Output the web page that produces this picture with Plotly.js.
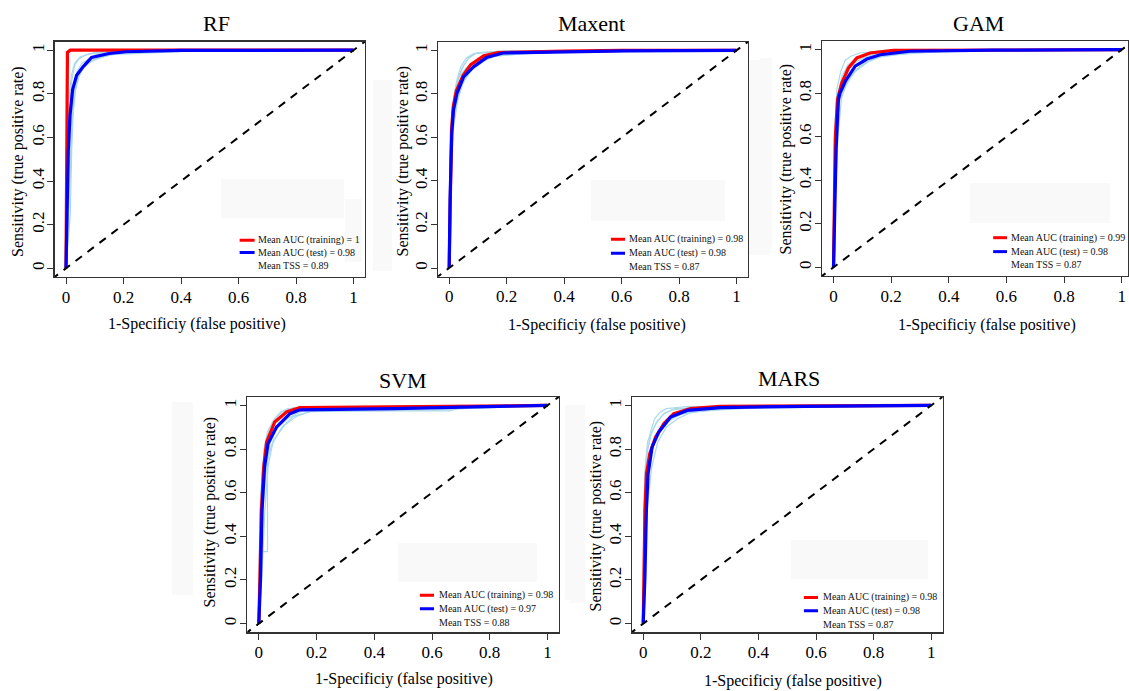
<!DOCTYPE html>
<html>
<head>
<meta charset="utf-8">
<script src="https://cdn.plot.ly/plotly-3.0.1.min.js"></script>
<style>html,body{margin:0;padding:0;background:#fff;}#chart{width:1129px;height:691px;}</style>
</head>
<body>
<div id="chart"></div>
<script>
// ---------------- DATA ----------------
const models = ['RF', 'Maxent', 'GAM', 'SVM', 'MARS'];
const aucTrain = ['1', '0.98', '0.99', '0.98', '0.98'];
const aucTest = ['0.98', '0.98', '0.98', '0.97', '0.98'];
const tssVals = ['0.89', '0.87', '0.87', '0.88', '0.87'];
const tickVals = [0, 0.2, 0.4, 0.6, 0.8, 1];
const tickText = ['0', '0.2', '0.4', '0.6', '0.8', '1'];
const diagX = [-0.05, 1.05];
const diagY = [-0.05, 1.05];

// RF
const rfTrainX = [0, 0.002, 0.003, 0.005, 0.015, 1];
const rfTrainY = [0, 0.5, 0.9, 0.99, 1, 1];
const rfTestX = [0, 0.002, 0.008, 0.014, 0.023, 0.037, 0.06, 0.089, 0.15, 0.21, 0.4, 1];
const rfTestY = [0, 0.16, 0.54, 0.70, 0.82, 0.885, 0.925, 0.967, 0.985, 0.993, 0.999, 1];
const rfRepX = [
  [0, 0.006, 0.012, 0.02, 0.03, 0.045, 0.07, 0.12, 0.3, 1],
  [0, 0.01, 0.016, 0.025, 0.04, 0.06, 0.09, 0.15, 0.42, 1],
  [0, 0.015, 0.02, 0.028, 0.038, 0.055, 0.08, 0.11, 0.25, 1],
  [0, 0.004, 0.01, 0.018, 0.03, 0.05, 0.1, 0.2, 1],
  [0, 0.008, 0.02, 0.03, 0.045, 0.065, 0.1, 0.18, 0.35, 1],
  [0, 0.012, 0.022, 0.035, 0.05, 0.07, 0.1, 0.14, 0.3, 1]
];
const rfRepY = [
  [0, 0.45, 0.72, 0.86, 0.93, 0.96, 0.98, 0.99, 1, 1],
  [0, 0.3, 0.6, 0.78, 0.87, 0.92, 0.95, 0.98, 0.995, 1],
  [0, 0.25, 0.55, 0.8, 0.9, 0.94, 0.96, 0.985, 1, 1],
  [0, 0.5, 0.75, 0.88, 0.94, 0.97, 0.99, 0.998, 1],
  [0, 0.35, 0.65, 0.8, 0.88, 0.93, 0.96, 0.985, 0.997, 1],
  [0, 0.4, 0.68, 0.84, 0.9, 0.95, 0.975, 0.99, 0.998, 1]
];

// Maxent
const mxTrainX = [0, 0.003, 0.008, 0.014, 0.025, 0.048, 0.075, 0.12, 0.17, 0.4, 0.6, 1];
const mxTrainY = [0, 0.35, 0.63, 0.74, 0.815, 0.885, 0.935, 0.975, 0.99, 0.997, 1, 1];
const mxTestX = [0, 0.003, 0.009, 0.015, 0.027, 0.05, 0.084, 0.13, 0.188, 0.384, 0.614, 1];
const mxTestY = [0, 0.315, 0.62, 0.726, 0.802, 0.878, 0.924, 0.967, 0.988, 0.993, 0.998, 1];
const mxRepX = [
  [0, 0.003, 0.008, 0.015, 0.03, 0.05, 0.07, 0.1, 0.2, 1],
  [0, 0.005, 0.012, 0.022, 0.04, 0.07, 0.1, 0.14, 0.3, 1],
  [0, 0.004, 0.01, 0.02, 0.035, 0.06, 0.09, 0.13, 0.47, 1],
  [0, 0.002, 0.006, 0.014, 0.025, 0.045, 0.065, 0.09, 0.18, 1],
  [0, 0.006, 0.015, 0.03, 0.05, 0.08, 0.12, 0.17, 0.35, 1],
  [0, 0.003, 0.009, 0.018, 0.028, 0.042, 0.06, 0.085, 0.15, 1]
];
const mxRepY = [
  [0, 0.4, 0.66, 0.78, 0.87, 0.93, 0.97, 0.99, 0.998, 1],
  [0, 0.35, 0.6, 0.74, 0.83, 0.9, 0.94, 0.97, 0.99, 1],
  [0, 0.45, 0.68, 0.8, 0.88, 0.92, 0.95, 0.975, 0.998, 1],
  [0, 0.3, 0.62, 0.76, 0.85, 0.92, 0.96, 0.985, 0.997, 1],
  [0, 0.4, 0.65, 0.77, 0.86, 0.91, 0.95, 0.98, 0.995, 1],
  [0, 0.5, 0.7, 0.8, 0.87, 0.93, 0.965, 0.985, 0.995, 1]
];

// GAM
const gmTrainX = [0, 0.002, 0.006, 0.014, 0.029, 0.052, 0.081, 0.127, 0.208, 1];
const gmTrainY = [0, 0.24, 0.59, 0.772, 0.848, 0.916, 0.962, 0.985, 0.997, 1];
const gmTestX = [0, 0.004, 0.009, 0.017, 0.023, 0.041, 0.075, 0.116, 0.162, 0.266, 0.555, 1];
const gmTestY = [0, 0.24, 0.543, 0.772, 0.802, 0.855, 0.924, 0.957, 0.977, 0.993, 0.998, 1];
const gmRepX = [
  [0, 0.003, 0.008, 0.015, 0.03, 0.05, 0.08, 0.12, 0.2, 1],
  [0, 0.004, 0.01, 0.02, 0.035, 0.06, 0.1, 0.15, 0.3, 1],
  [0, 0.005, 0.012, 0.025, 0.04, 0.07, 0.11, 0.16, 0.25, 1],
  [0, 0.002, 0.006, 0.012, 0.025, 0.04, 0.06, 0.09, 0.18, 1],
  [0, 0.006, 0.015, 0.028, 0.045, 0.075, 0.12, 0.18, 0.4, 1],
  [0, 0.003, 0.009, 0.018, 0.03, 0.05, 0.085, 0.13, 0.3, 1]
];
const gmRepY = [
  [0, 0.35, 0.62, 0.8, 0.88, 0.93, 0.96, 0.98, 0.995, 1],
  [0, 0.3, 0.58, 0.76, 0.82, 0.88, 0.93, 0.965, 0.99, 1],
  [0, 0.4, 0.65, 0.8, 0.85, 0.9, 0.94, 0.97, 0.99, 1],
  [0, 0.4, 0.68, 0.82, 0.9, 0.95, 0.97, 0.985, 0.997, 1],
  [0, 0.3, 0.6, 0.78, 0.84, 0.9, 0.945, 0.975, 0.993, 1],
  [0, 0.45, 0.7, 0.8, 0.86, 0.91, 0.95, 0.975, 0.992, 1]
];

// SVM
const svTrainX = [0, 0.003, 0.009, 0.017, 0.027, 0.055, 0.096, 0.142, 0.35, 0.69, 1];
const svTrainY = [0, 0.217, 0.521, 0.719, 0.833, 0.924, 0.97, 0.99, 0.993, 0.996, 1];
const svTestX = [0, 0.006, 0.011, 0.02, 0.032, 0.061, 0.108, 0.142, 0.466, 0.69, 0.81, 1];
const svTestY = [0, 0.217, 0.52, 0.72, 0.825, 0.90, 0.962, 0.98, 0.985, 0.99, 0.995, 1];
const svRepX = [
  [0, 0.003, 0.01, 0.018, 0.03, 0.05, 0.08, 0.12, 0.3, 1],
  [0, 0.012, 0.03, 0.03, 0.04, 0.06, 0.1, 0.15, 0.66, 0.7, 1],
  [0, 0.005, 0.015, 0.025, 0.04, 0.07, 0.1, 0.14, 0.5, 1],
  [0, 0.008, 0.016, 0.028, 0.045, 0.08, 0.12, 0.2, 0.8, 1],
  [0, 0.004, 0.012, 0.022, 0.035, 0.055, 0.075, 0.1, 0.4, 1],
  [0, 0.01, 0.02, 0.032, 0.05, 0.09, 0.13, 0.18, 0.6, 1]
];
const svRepY = [
  [0, 0.5, 0.66, 0.8, 0.88, 0.93, 0.97, 0.99, 0.995, 1],
  [0, 0.33, 0.33, 0.75, 0.83, 0.89, 0.94, 0.975, 0.975, 0.99, 1],
  [0, 0.4, 0.6, 0.78, 0.86, 0.92, 0.96, 0.98, 0.99, 1],
  [0, 0.3, 0.55, 0.74, 0.82, 0.9, 0.95, 0.98, 0.99, 1],
  [0, 0.45, 0.7, 0.82, 0.89, 0.94, 0.97, 0.985, 0.995, 1],
  [0, 0.2, 0.5, 0.72, 0.84, 0.91, 0.95, 0.972, 0.98, 1]
];

// MARS
const msTrainX = [0, 0.002, 0.006, 0.011, 0.023, 0.043, 0.072, 0.106, 0.164, 0.268, 1];
const msTrainY = [0, 0.217, 0.52, 0.687, 0.78, 0.856, 0.917, 0.962, 0.985, 0.996, 1];
const msTestX = [0, 0.006, 0.011, 0.017, 0.031, 0.054, 0.095, 0.153, 0.268, 0.558, 1];
const msTestY = [0, 0.217, 0.52, 0.687, 0.81, 0.878, 0.947, 0.977, 0.99, 0.996, 1];
const msRepX = [
  [0, 0.002, 0.006, 0.012, 0.025, 0.045, 0.07, 0.1, 0.2, 1],
  [0, 0.004, 0.01, 0.02, 0.035, 0.06, 0.09, 0.13, 0.3, 1],
  [0, 0.003, 0.008, 0.016, 0.03, 0.05, 0.075, 0.11, 0.35, 1],
  [0, 0.005, 0.013, 0.025, 0.04, 0.065, 0.1, 0.15, 0.4, 1],
  [0, 0.002, 0.007, 0.015, 0.028, 0.04, 0.06, 0.08, 0.15, 1],
  [0, 0.006, 0.015, 0.03, 0.05, 0.08, 0.12, 0.17, 0.3, 1]
];
const msRepY = [
  [0, 0.4, 0.66, 0.78, 0.86, 0.92, 0.96, 0.98, 0.995, 1],
  [0, 0.3, 0.6, 0.73, 0.82, 0.88, 0.93, 0.96, 0.99, 1],
  [0, 0.45, 0.7, 0.8, 0.88, 0.93, 0.965, 0.985, 0.997, 1],
  [0, 0.35, 0.62, 0.76, 0.84, 0.9, 0.94, 0.97, 0.99, 1],
  [0, 0.5, 0.72, 0.83, 0.89, 0.94, 0.97, 0.985, 0.995, 1],
  [0, 0.3, 0.55, 0.72, 0.83, 0.9, 0.94, 0.97, 0.985, 1]
];

const curves = [
  {trX: rfTrainX, trY: rfTrainY, teX: rfTestX, teY: rfTestY, rX: rfRepX, rY: rfRepY},
  {trX: mxTrainX, trY: mxTrainY, teX: mxTestX, teY: mxTestY, rX: mxRepX, rY: mxRepY},
  {trX: gmTrainX, trY: gmTrainY, teX: gmTestX, teY: gmTestY, rX: gmRepX, rY: gmRepY},
  {trX: svTrainX, trY: svTrainY, teX: svTestX, teY: svTestY, rX: svRepX, rY: svRepY},
  {trX: msTrainX, trY: msTrainY, teX: msTestX, teY: msTestY, rX: msRepX, rY: msRepY}
];

// ---------------- LAYOUT (pixel geometry) ----------------
const W = 1129, H = 691;
const px = p => p / W;
const py = p => 1 - p / H;
const boxes = [
  {l: 54.5, r: 365, t: 41.5, b: 277, xmax: 1.04},
  {l: 437.7, r: 748, t: 41.7, b: 276.7, xmax: 1.04},
  {l: 822, r: 1128, t: 41, b: 276, xmax: 1.022},
  {l: 247.3, r: 559, t: 396.7, b: 632.3, xmax: 1.04},
  {l: 631.7, r: 942.7, t: 396.7, b: 632.3, xmax: 1.04}
];
const titlePos = [[216.7, 23], [591.7, 23], [978, 24], [403.3, 380], [789, 378]];
const xTitlePos = [[197, 324], [596.7, 325], [986.7, 325], [404, 679], [792.5, 681]];
const yTitlePos = [[18, 162], [402.5, 161], [785.5, 159], [209, 512.5], [595.5, 516]];
const legPos = [
  {x0: 0.604, x1: 0.656, tx: 0.662, y: [0.129, 0.072, 0.011]},
  {x0: 0.563, x1: 0.612, tx: 0.619, y: [0.132, 0.068, 0.006]},
  {x0: 0.554, x1: 0.602, tx: 0.61, y: [0.136, 0.072, 0.011]},
  {x0: 0.558, x1: 0.607, tx: 0.617, y: [0.130, 0.068, 0.005]},
  {x0: 0.558, x1: 0.607, tx: 0.616, y: [0.12, 0.059, -0.003]}
];
const patches = [
  [221, 179, 344, 218], [345, 199, 362, 262],
  [591, 180, 725, 221], [970, 183, 1110, 223],
  [398, 543, 537, 582], [791, 540, 928, 579],
  [373, 80, 392, 271], [749, 60, 770, 255], [760, 58, 772, 247],
  [172, 402, 193, 595], [565, 405, 580, 600], [570, 405, 585, 603]
];

const serif = "'Liberation Serif', 'Times New Roman', Times, serif";
const lineCol = '#333333';
const traces = [];
const layout = {
  width: W, height: H,
  margin: {l: 0, r: 0, t: 0, b: 0},
  paper_bgcolor: '#ffffff', plot_bgcolor: 'rgba(0,0,0,0)',
  showlegend: false,
  font: {family: serif, color: '#000'},
  annotations: [], shapes: []
};

patches.forEach(p => {
  layout.shapes.push({type: 'rect', xref: 'paper', yref: 'paper', layer: 'below',
    x0: px(p[0]), x1: px(p[2]), y0: py(p[3]), y1: py(p[1]),
    fillcolor: '#f9f9f9', line: {width: 0}});
});

models.forEach((m, i) => {
  const sfx = i === 0 ? '' : String(i + 1);
  const xa = 'x' + sfx, ya = 'y' + sfx;
  const bx = boxes[i];
  const axCommon = {
    showgrid: false, zeroline: false, showline: true, mirror: true,
    linecolor: lineCol, linewidth: 1.2, ticks: 'outside', ticklen: 6,
    tickwidth: 1, tickcolor: lineCol, tickvals: tickVals, ticktext: tickText,
    tickfont: {family: serif, size: 17, color: '#000'}, fixedrange: true
  };
  layout['xaxis' + sfx] = Object.assign({}, axCommon, {
    domain: [px(bx.l), px(bx.r)], range: [-0.04, bx.xmax], anchor: ya, ticklabelstandoff: -2
  });
  layout['yaxis' + sfx] = Object.assign({}, axCommon, {
    domain: [py(bx.b), py(bx.t)], range: [-0.04, 1.04], anchor: xa, tickangle: -90, ticklabelstandoff: -3
  });

  const c = curves[i];
  c.rX.forEach((rx, k) => {
    traces.push({x: rx, y: c.rY[k], xaxis: xa, yaxis: ya, mode: 'lines',
      line: {color: '#a9d9ea', width: 1.2}, hoverinfo: 'skip'});
  });
  traces.push({x: c.trX, y: c.trY, xaxis: xa, yaxis: ya, mode: 'lines',
    line: {color: '#ff0000', width: 3.2}, name: 'training'});
  traces.push({x: c.teX, y: c.teY, xaxis: xa, yaxis: ya, mode: 'lines',
    line: {color: '#0000ff', width: 3.2}, name: 'test'});
  traces.push({x: diagX, y: diagY, xaxis: xa, yaxis: ya, mode: 'lines',
    line: {color: '#000', width: 2, dash: '8px,7px'}, hoverinfo: 'skip'});

  layout.annotations.push({xref: 'paper', yref: 'paper', x: px(titlePos[i][0]), y: py(titlePos[i][1]),
    text: m, showarrow: false, xanchor: 'center', yanchor: 'middle',
    font: {family: serif, size: 22, color: '#000'}});
  layout.annotations.push({xref: 'paper', yref: 'paper', x: px(xTitlePos[i][0]), y: py(xTitlePos[i][1]),
    text: '1-Specificiy (false positive)', showarrow: false, xanchor: 'center', yanchor: 'middle',
    font: {family: serif, size: 16, color: '#000'}});
  layout.annotations.push({xref: 'paper', yref: 'paper', x: px(yTitlePos[i][0]), y: py(yTitlePos[i][1]),
    text: 'Sensitivity (true positive rate)', showarrow: false, xanchor: 'center', yanchor: 'middle',
    textangle: -90, font: {family: serif, size: 16, color: '#000'}});

  const lp = legPos[i];
  layout.shapes.push({type: 'line', xref: xa, yref: ya, x0: lp.x0, x1: lp.x1, y0: lp.y[0], y1: lp.y[0],
    line: {color: '#ff0000', width: 3}});
  layout.shapes.push({type: 'line', xref: xa, yref: ya, x0: lp.x0, x1: lp.x1, y0: lp.y[1], y1: lp.y[1],
    line: {color: '#0000ff', width: 3}});
  const legTexts = ['Mean AUC (training) = ' + aucTrain[i], 'Mean AUC (test) = ' + aucTest[i], 'Mean TSS = ' + tssVals[i]];
  legTexts.forEach((t, k) => {
    layout.annotations.push({xref: xa, yref: ya, x: lp.tx, y: lp.y[k], text: t, showarrow: false,
      xanchor: 'left', yanchor: 'middle', font: {family: serif, size: 10, color: '#111'}});
  });
});

Plotly.newPlot('chart', traces, layout, {staticPlot: true, displayModeBar: false});
</script>
</body>
</html>
